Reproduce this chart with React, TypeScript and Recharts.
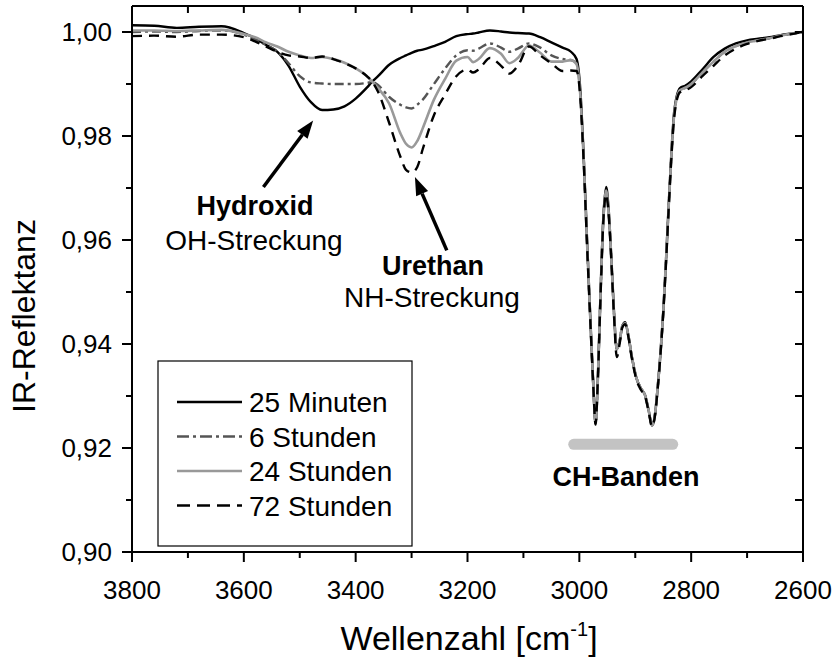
import React from 'react';
import { LineChart, Line, XAxis, YAxis, ReferenceLine } from 'recharts';

// Wellenzahl in cm^-1
const wavenumbers = [
    3800, 3760, 3720, 3680, 3640, 3600, 3580, 3560, 3540, 3520,
    3500, 3480, 3460, 3440, 3420, 3400, 3380, 3370, 3360, 3340,
    3320, 3310, 3300, 3290, 3280, 3260, 3240, 3220, 3200, 3190,
    3180, 3160, 3140, 3125, 3110, 3090, 3070, 3050, 3030, 3015,
    3005, 2998, 2992, 2986, 2980, 2975, 2971, 2967, 2962, 2957,
    2952, 2948, 2943, 2938, 2933, 2928, 2923, 2918, 2913, 2906,
    2898, 2890, 2882, 2876, 2870, 2865, 2860, 2855, 2850, 2845,
    2840, 2835, 2830, 2820, 2810, 2800, 2780, 2760, 2740, 2720,
    2700, 2680, 2660, 2640, 2620, 2600,
];

const minuten25 = [
    1.0013, 1.0012, 1.0008, 1.0010, 1.0011, 0.9998, 0.9988, 0.9975, 0.9962, 0.9935,
    0.9895, 0.9865, 0.9850, 0.9851, 0.9857, 0.9872, 0.9893, 0.9905, 0.9915, 0.9937,
    0.9950, 0.9955, 0.9960, 0.9964, 0.9966, 0.9973, 0.9981, 0.9992, 0.9996, 0.9997,
    0.9999, 1.0003, 1.0001, 0.9999, 0.9998, 0.9997, 0.9990, 0.9980, 0.9970, 0.9962,
    0.9948, 0.9885, 0.9755, 0.9595, 0.9440, 0.9320, 0.9247, 0.9330, 0.9500, 0.9645,
    0.9702, 0.9665, 0.9570, 0.9460, 0.9390, 0.9405, 0.9435, 0.9442, 0.9420, 0.9375,
    0.9335, 0.9315, 0.9300, 0.9272, 0.9243, 0.9262, 0.9315, 0.9380, 0.9460, 0.9560,
    0.9670, 0.9775, 0.9850, 0.9892, 0.9897, 0.9905, 0.9928, 0.9952, 0.9968, 0.9978,
    0.9984, 0.9987, 0.9990, 0.9994, 0.9997, 1.0000,
];

const stunden6 = [
    1.0000, 1.0001, 1.0000, 1.0002, 1.0003, 0.9995, 0.9985, 0.9975, 0.9962, 0.9940,
    0.9915, 0.9903, 0.9901, 0.9900, 0.9900, 0.9900, 0.9902, 0.9904, 0.9898, 0.9875,
    0.9860, 0.9855, 0.9853, 0.9860, 0.9870, 0.9900, 0.9930, 0.9955, 0.9965, 0.9964,
    0.9968, 0.9978, 0.9970, 0.9962, 0.9968, 0.9978, 0.9970, 0.9955, 0.9948, 0.9946,
    0.9940, 0.9875, 0.9750, 0.9590, 0.9440, 0.9320, 0.9247, 0.9330, 0.9500, 0.9640,
    0.9690, 0.9660, 0.9570, 0.9460, 0.9390, 0.9405, 0.9435, 0.9440, 0.9420, 0.9375,
    0.9335, 0.9315, 0.9300, 0.9272, 0.9243, 0.9262, 0.9315, 0.9380, 0.9460, 0.9560,
    0.9670, 0.9770, 0.9845, 0.9888, 0.9893, 0.9900, 0.9922, 0.9943, 0.9962, 0.9973,
    0.9980, 0.9984, 0.9988, 0.9993, 0.9997, 1.0000,
];

const stunden24 = [
    1.0003, 1.0003, 1.0002, 1.0003, 1.0004, 0.9996, 0.9990, 0.9980, 0.9972, 0.9962,
    0.9955, 0.9950, 0.9952, 0.9948, 0.9941, 0.9930, 0.9915, 0.9904, 0.9892, 0.9862,
    0.9805, 0.9785, 0.9778, 0.9790, 0.9815, 0.9870, 0.9910, 0.9945, 0.9952, 0.9942,
    0.9948, 0.9969, 0.9958, 0.9940, 0.9950, 0.9974, 0.9960, 0.9943, 0.9943, 0.9946,
    0.9938, 0.9875, 0.9750, 0.9590, 0.9440, 0.9320, 0.9247, 0.9330, 0.9500, 0.9640,
    0.9695, 0.9660, 0.9570, 0.9460, 0.9390, 0.9405, 0.9435, 0.9440, 0.9420, 0.9375,
    0.9335, 0.9315, 0.9300, 0.9272, 0.9243, 0.9262, 0.9315, 0.9380, 0.9460, 0.9560,
    0.9670, 0.9770, 0.9845, 0.9888, 0.9893, 0.9900, 0.9922, 0.9943, 0.9962, 0.9973,
    0.9980, 0.9984, 0.9988, 0.9993, 0.9997, 1.0000,
];

const stunden72 = [
    0.9992, 0.9993, 0.9991, 0.9995, 0.9995, 0.9990, 0.9982, 0.9972, 0.9962, 0.9955,
    0.9953, 0.9950, 0.9953, 0.9948, 0.9940, 0.9930, 0.9915, 0.9904, 0.9885, 0.9825,
    0.9760, 0.9735, 0.9730, 0.9740, 0.9775, 0.9840, 0.9880, 0.9915, 0.9928, 0.9922,
    0.9928, 0.9950, 0.9935, 0.9920, 0.9935, 0.9972, 0.9955, 0.9940, 0.9925, 0.9926,
    0.9925, 0.9870, 0.9745, 0.9585, 0.9435, 0.9318, 0.9245, 0.9328, 0.9495, 0.9638,
    0.9688, 0.9655, 0.9565, 0.9455, 0.9375, 0.9400, 0.9432, 0.9438, 0.9418, 0.9372,
    0.9332, 0.9312, 0.9298, 0.9270, 0.9241, 0.9260, 0.9312, 0.9378, 0.9458, 0.9555,
    0.9665, 0.9765, 0.9840, 0.9884, 0.9888, 0.9894, 0.9915, 0.9935, 0.9955, 0.9968,
    0.9977, 0.9983, 0.9987, 0.9992, 0.9996, 1.0000,
];

const seriesNames = ['25 Minuten', '6 Stunden', '24 Stunden', '72 Stunden'];

const xTicks = [3800, 3600, 3400, 3200, 3000, 2800, 2600];
const xMinorTicks = [3700, 3500, 3300, 3100, 2900, 2700];
const yTicks = [0.9, 0.92, 0.94, 0.96, 0.98, 1.0];
const yMinorTicks = [0.91, 0.93, 0.95, 0.97, 0.99];

const data = wavenumbers.map((wn, i) => ({
    wn,
    m25: minuten25[i],
    h6: stunden6[i],
    h24: stunden24[i],
    h72: stunden72[i],
}));

const FONT = '"Liberation Sans", Arial, Helvetica, sans-serif';

const series = [
    { key: 'm25', color: '#000000', dash: undefined, legendDash: undefined, width: 2.4 },
    { key: 'h6', color: '#555555', dash: '9 4 3 4', legendDash: '12 4 3 4', width: 2.4 },
    { key: 'h24', color: '#999999', dash: undefined, legendDash: undefined, width: 2.6 },
    { key: 'h72', color: '#000000', dash: '10 7', legendDash: '13 7', width: 2.4 },
];

const isMajor = (list: number[], v: number) => list.some(t => Math.abs(t - v) < 1e-6);

const BottomTick = ({ x, y, payload }: any) => {
    const major = isMajor(xTicks, payload.value);
    return (
        <g>
            <line x1={x} x2={x} y1={y} y2={y + (major ? 10 : 6)} stroke="#000" strokeWidth={2} />
            {major && (
                <text x={x} y={y + 28} dy="0.72em" textAnchor="middle" fontSize={26} fill="#000" fontFamily={FONT}>
                    {payload.value}
                </text>
            )}
        </g>
    );
};

const LeftTick = ({ x, y, payload }: any) => {
    const major = isMajor(yTicks, payload.value);
    return (
        <g>
            <line x1={x} x2={x - (major ? 10 : 6)} y1={y} y2={y} stroke="#000" strokeWidth={2} />
            {major && (
                <text x={x - 20} y={y} dy="0.36em" textAnchor="end" fontSize={26} fill="#000" fontFamily={FONT}>
                    {payload.value.toFixed(2).replace('.', ',')}
                </text>
            )}
        </g>
    );
};

const TopTick = ({ x, y }: any) => (
    <line x1={x} x2={x} y1={y} y2={y + 7} stroke="#000" strokeWidth={2} />
);

const RightTick = ({ x, y }: any) => (
    <line x1={x} x2={x - 8} y1={y} y2={y} stroke="#000" strokeWidth={2} />
);

const ArrowShape = (props: any) => {
    const { x1, y1, x2, y2 } = props;
    const dx = x2 - x1;
    const dy = y2 - y1;
    const len = Math.hypot(dx, dy) || 1;
    const ux = dx / len;
    const uy = dy / len;
    const head = 18;
    const half = 6.5;
    const bx = x2 - ux * head;
    const by = y2 - uy * head;
    return (
        <g>
            <line x1={x1} y1={y1} x2={bx} y2={by} stroke="#000" strokeWidth={3.5} />
            <polygon
                points={`${x2},${y2} ${bx - uy * half},${by + ux * half} ${bx + uy * half},${by - ux * half}`}
                fill="#000"
            />
        </g>
    );
};

const BandShape = (props: any) => {
    const { x1, y1, x2, y2 } = props;
    return <line x1={x1} y1={y1} x2={x2} y2={y2} stroke="#c3c3c3" strokeWidth={11} strokeLinecap="round" />;
};

const Legend = () => {
    const rows = [402, 436.5, 471, 505.5];
    return (
        <g>
            <rect x={158} y={361} width={254} height={185} fill="none" stroke="#000" strokeWidth={1.2} />
            {series.map((s, i) => (
                <g key={s.key}>
                    <line
                        x1={177}
                        x2={242}
                        y1={rows[i]}
                        y2={rows[i]}
                        stroke={s.color}
                        strokeWidth={s.width}
                        strokeDasharray={s.legendDash}
                    />
                    <text x={249} y={rows[i]} dy="0.36em" fontSize={28} fontFamily={FONT} fill="#000">
                        {seriesNames[i]}
                    </text>
                </g>
            ))}
        </g>
    );
};

export default function App() {
    return (
        <div style={{ position: 'absolute', left: 0, top: 0, width: 839, height: 663, background: '#fff' }}>
            <LineChart
                width={839}
                height={663}
                data={data}
                margin={{ top: 5, right: 35, bottom: 0, left: 0 }}
            >
                <XAxis
                    xAxisId="x"
                    dataKey="wn"
                    type="number"
                    domain={[2600, 3800]}
                    reversed
                    ticks={[...xTicks, ...xMinorTicks]}
                    interval={0}
                    height={111}
                    tickSize={0}
                    tickMargin={0}
                    tickLine={false}
                    axisLine={{ stroke: '#000', strokeWidth: 2 }}
                    tick={<BottomTick />}
                />
                <XAxis
                    xAxisId="top"
                    orientation="top"
                    dataKey="wn"
                    type="number"
                    domain={[2600, 3800]}
                    reversed
                    ticks={[...xTicks, ...xMinorTicks]}
                    interval={0}
                    height={1}
                    tickSize={0}
                    tickMargin={0}
                    tickLine={false}
                    axisLine={{ stroke: '#000', strokeWidth: 2 }}
                    tick={<TopTick />}
                />
                <YAxis
                    yAxisId="left"
                    type="number"
                    domain={[0.9, 1.005]}
                    ticks={[...yTicks, ...yMinorTicks]}
                    interval={0}
                    width={132}
                    tickSize={0}
                    tickMargin={0}
                    tickLine={false}
                    axisLine={{ stroke: '#000', strokeWidth: 2 }}
                    tick={<LeftTick />}
                />
                <YAxis
                    yAxisId="right"
                    orientation="right"
                    type="number"
                    domain={[0.9, 1.005]}
                    ticks={[...yTicks, ...yMinorTicks]}
                    interval={0}
                    width={1}
                    tickSize={0}
                    tickMargin={0}
                    tickLine={false}
                    axisLine={{ stroke: '#000', strokeWidth: 2 }}
                    tick={<RightTick />}
                />

                {/* invisible copy so the frame axes have a series of their own */}
                <Line
                    xAxisId="top"
                    yAxisId="right"
                    type="monotone"
                    dataKey="m25"
                    stroke="none"
                    strokeOpacity={0}
                    dot={false}
                    activeDot={false}
                    legendType="none"
                    isAnimationActive={false}
                />

                {series.map(s => (
                    <Line
                        key={s.key}
                        xAxisId="x"
                        yAxisId="left"
                        type="monotone"
                        dataKey={s.key}
                        stroke={s.color}
                        strokeWidth={s.width}
                        strokeDasharray={s.dash}
                        dot={false}
                        activeDot={false}
                        isAnimationActive={false}
                    />
                ))}

                <ReferenceLine
                    xAxisId="x"
                    yAxisId="left"
                    segment={[{ x: 3010, y: 0.9207 }, { x: 2833, y: 0.9207 }]}
                    shape={BandShape}
                />
                <ReferenceLine
                    xAxisId="x"
                    yAxisId="left"
                    segment={[{ x: 3565, y: 0.9702 }, { x: 3476, y: 0.983 }]}
                    shape={ArrowShape}
                />
                <ReferenceLine
                    xAxisId="x"
                    yAxisId="left"
                    segment={[{ x: 3237, y: 0.958 }, { x: 3294, y: 0.9721 }]}
                    shape={ArrowShape}
                />
            </LineChart>

            <svg
                width={839}
                height={663}
                style={{ position: 'absolute', left: 0, top: 0, pointerEvents: 'none' }}
                fontFamily={FONT}
            >
                <Legend />
                <text x={255} y={215} textAnchor="middle" fontSize={27} fontWeight="bold">Hydroxid</text>
                <text x={254} y={250} textAnchor="middle" fontSize={28}>OH-Streckung</text>
                <text x={433} y={275} textAnchor="middle" fontSize={27} fontWeight="bold">Urethan</text>
                <text x={432} y={307} textAnchor="middle" fontSize={28}>NH-Streckung</text>
                <text x={626} y={486} textAnchor="middle" fontSize={27} fontWeight="bold">CH-Banden</text>

                <text transform="translate(35,316) rotate(-90)" textAnchor="middle" fontSize={32}>
                    IR-Reflektanz
                </text>
                <text x={469} y={650} textAnchor="middle" fontSize={34}>
                    Wellenzahl [cm
                    <tspan dy={-14} fontSize={20}>-1</tspan>
                    <tspan dy={14}>]</tspan>
                </text>
            </svg>
        </div>
    );
}
